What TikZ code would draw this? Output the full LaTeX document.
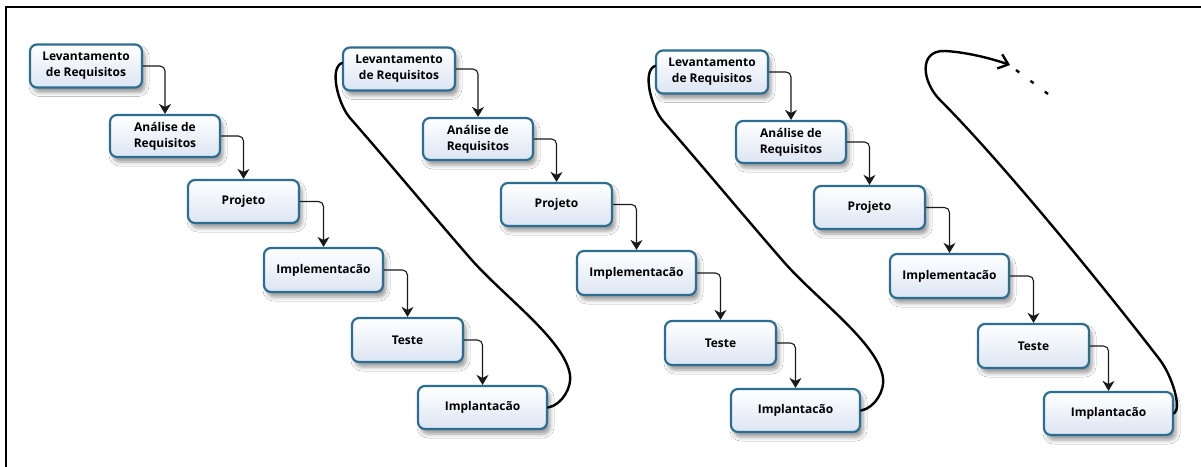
\documentclass[tikz,border=0pt]{standalone}
\usepackage{fontspec}
\setmainfont{Open Sans}
\usetikzlibrary{arrows.meta,shadows.blur}
\definecolor{boxline}{HTML}{2C6E92}
\definecolor{boxbot}{HTML}{DCE5F3}
\definecolor{connclr}{HTML}{1A1A1A}
\tikzset{
  stage/.style={draw=boxline, line width=2.2pt, rounded corners=7pt,
    top color=white, bottom color=boxbot, minimum height=43pt,
    inner sep=0pt, align=center, text=black,
    font=\bfseries\fontsize{12}{16}\selectfont,
    blur shadow={shadow xshift=3pt, shadow yshift=-5pt,
      shadow blur radius=4pt, shadow opacity=40}},
  flow/.style={draw=connclr, line width=1.1pt, rounded corners=5pt,
    -{Stealth[length=10pt,width=12pt,inset=3pt]}},
  loopback/.style={draw=black, line width=2.4pt, line cap=round, line join=round},
}
\begin{document}
\begin{tikzpicture}[x=1pt,y=-1pt]
  \useasboundingbox (0,0) rectangle (1201,466);
  \fill[white] (0,0) rectangle (1201,466);
  % outer frame (left and top edges)
  \draw[line width=2.4pt] (6,472) -- (6,7) -- (1207,7);

  % three identical waterfall cascades
  \foreach \k in {0,1,2}{
    \begin{scope}[shift={(313*\k,3*\k)}]
      \node[stage, minimum width=112pt] (L\k)  at (86,66)     {Levantamento\\de Requisitos};
      \node[stage, minimum width=110pt, minimum height=42pt] (A\k)  at (165,136) {Análise de\\Requisitos};
      \node[stage, minimum width=111pt] (P\k)  at (243.5,201.5) {Projeto};
      \node[stage, minimum width=119pt, minimum height=44pt] (I\k)  at (323.5,270) {Implementacão};
      \node[stage, minimum width=111pt, minimum height=44pt] (T\k)  at (407.5,340) {Teste};
      \node[stage, minimum width=129pt] (Im\k) at (482.5,407.5) {Implantacão};
    \end{scope}
    \draw[flow] (L\k.east) -| (A\k.north);
    \draw[flow] (A\k.east) -| (P\k.north);
    \draw[flow] (P\k.east) -| (I\k.north);
    \draw[flow] (I\k.east) -| (T\k.north);
    \draw[flow] (T\k.east) -| (Im\k.north);
  }

  % feedback loops from deployment back to the next requirements stage
  \foreach \k/\n in {0/1,1/2}{
    \begin{scope}[shift={(313*\k,3*\k)}]
      \draw[loopback] (Im\k.east) .. controls (562,405) and (572,387) .. (570,375)
        .. controls (565,340) and (503,296) .. (470,258)
        .. controls (430,212) and (380,152) .. (350,118)
        .. controls (338,104) and (329,68) .. ([yshift=6pt]L\n.west);
    \end{scope}
  }

  % last loop continues into further iterations
  \coordinate (more) at (1010,65);
  \draw[loopback, -{Straight Barb[length=9pt,width=15pt]}]
    (Im2.east) .. controls (1182,408) and (1172,376) .. (1160,360)
    .. controls (1100,282) and (1000,160) .. (940,100)
    .. controls (922,82) and (918,50) .. (945,51)
    .. controls (965,52) and (990,58) .. (more);
  \draw[line width=2.4pt, dash pattern=on 4pt off 14pt] (1016,70) -- (1048,94);
\end{tikzpicture}
\end{document}
